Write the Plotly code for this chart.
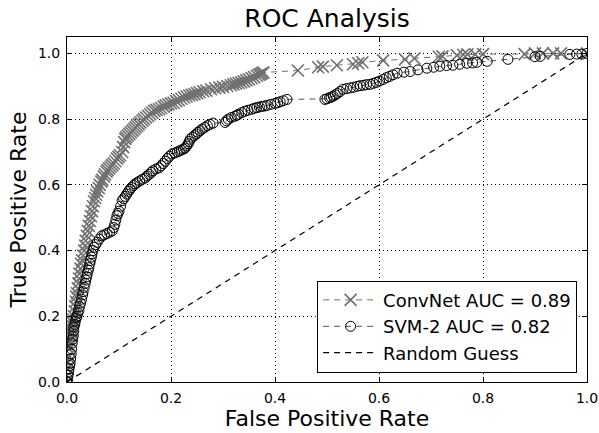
import plotly.graph_objects as go

# ConvNet ROC points (fpr, tpr)
cn_points = [
    (0.000, 0.000), (0.000, 0.020), (0.001, 0.040), (0.002, 0.060), (0.003, 0.080), (0.004, 0.100),
    (0.005, 0.110), (0.006, 0.125), (0.007, 0.140), (0.008, 0.150), (0.009, 0.160), (0.010, 0.170),
    (0.011, 0.180), (0.012, 0.190), (0.013, 0.200), (0.015, 0.215), (0.016, 0.230), (0.017, 0.245),
    (0.018, 0.260), (0.019, 0.270), (0.021, 0.285), (0.022, 0.300), (0.023, 0.315), (0.024, 0.330),
    (0.026, 0.345), (0.027, 0.360), (0.029, 0.370), (0.031, 0.385), (0.033, 0.400), (0.035, 0.415),
    (0.036, 0.430), (0.038, 0.445), (0.040, 0.460), (0.042, 0.475), (0.044, 0.490), (0.046, 0.505),
    (0.048, 0.520), (0.050, 0.535), (0.052, 0.550), (0.054, 0.560), (0.056, 0.570), (0.058, 0.580),
    (0.061, 0.590), (0.063, 0.600), (0.066, 0.610), (0.068, 0.615), (0.071, 0.625), (0.073, 0.632),
    (0.076, 0.640), (0.078, 0.645), (0.081, 0.650), (0.084, 0.655), (0.087, 0.660), (0.090, 0.665),
    (0.093, 0.672), (0.096, 0.680), (0.099, 0.685), (0.102, 0.690), (0.106, 0.700), (0.108, 0.715),
    (0.110, 0.730), (0.112, 0.740), (0.114, 0.745), (0.117, 0.750), (0.120, 0.755), (0.123, 0.760),
    (0.126, 0.765), (0.129, 0.770), (0.132, 0.775), (0.135, 0.780), (0.138, 0.785), (0.141, 0.790),
    (0.145, 0.795), (0.148, 0.800), (0.152, 0.805), (0.156, 0.810), (0.160, 0.815), (0.164, 0.820),
    (0.168, 0.825), (0.172, 0.828), (0.177, 0.830), (0.181, 0.834), (0.186, 0.838), (0.190, 0.842),
    (0.195, 0.845), (0.200, 0.848), (0.205, 0.850), (0.210, 0.855), (0.215, 0.858), (0.220, 0.862),
    (0.225, 0.866), (0.230, 0.869), (0.235, 0.872), (0.240, 0.874), (0.245, 0.876), (0.250, 0.879),
    (0.255, 0.882), (0.262, 0.885), (0.268, 0.887), (0.277, 0.891), (0.285, 0.894), (0.293, 0.896),
    (0.300, 0.898), (0.308, 0.901), (0.315, 0.903), (0.320, 0.906), (0.325, 0.908), (0.330, 0.910),
    (0.335, 0.912), (0.340, 0.915), (0.345, 0.918), (0.350, 0.921), (0.355, 0.925), (0.360, 0.928),
    (0.365, 0.932), (0.369, 0.935), (0.372, 0.937), (0.375, 0.940), (0.378, 0.942), (0.444, 0.948),
    (0.483, 0.958), (0.492, 0.960), (0.519, 0.964), (0.550, 0.967), (0.560, 0.970), (0.568, 0.973),
    (0.608, 0.979), (0.650, 0.982), (0.668, 0.985), (0.715, 0.990), (0.722, 0.991), (0.750, 0.994),
    (0.762, 0.996), (0.770, 0.997), (0.785, 0.997), (0.800, 0.998), (0.880, 0.998), (0.900, 1.000),
    (0.915, 1.000), (0.935, 1.000), (0.950, 1.000), (1.000, 1.000),
]

# SVM-2 ROC points (fpr, tpr)
svm_points = [
    (0.000, 0.000), (0.001, 0.010), (0.002, 0.020), (0.003, 0.030), (0.004, 0.040), (0.005, 0.050),
    (0.006, 0.057), (0.007, 0.070), (0.008, 0.085), (0.009, 0.100), (0.010, 0.118), (0.011, 0.130),
    (0.012, 0.140), (0.013, 0.155), (0.013, 0.167), (0.015, 0.175), (0.016, 0.185), (0.018, 0.195),
    (0.019, 0.200), (0.021, 0.210), (0.023, 0.218), (0.024, 0.230), (0.026, 0.240), (0.028, 0.252),
    (0.030, 0.265), (0.031, 0.275), (0.033, 0.288), (0.035, 0.300), (0.036, 0.310), (0.038, 0.320),
    (0.039, 0.330), (0.041, 0.340), (0.042, 0.348), (0.044, 0.360), (0.045, 0.370), (0.047, 0.380),
    (0.048, 0.390), (0.050, 0.400), (0.052, 0.410), (0.055, 0.418), (0.058, 0.425), (0.062, 0.435),
    (0.067, 0.445), (0.072, 0.448), (0.077, 0.452), (0.082, 0.456), (0.087, 0.460), (0.090, 0.470),
    (0.092, 0.480), (0.094, 0.493), (0.096, 0.506), (0.098, 0.513), (0.100, 0.520), (0.103, 0.535),
    (0.106, 0.552), (0.109, 0.558), (0.112, 0.565), (0.115, 0.572), (0.118, 0.580), (0.121, 0.586),
    (0.124, 0.592), (0.128, 0.598), (0.131, 0.603), (0.135, 0.607), (0.140, 0.612), (0.145, 0.617),
    (0.150, 0.621), (0.154, 0.627), (0.158, 0.632), (0.162, 0.638), (0.165, 0.643), (0.171, 0.648),
    (0.177, 0.652), (0.181, 0.658), (0.185, 0.665), (0.189, 0.672), (0.193, 0.680), (0.197, 0.687),
    (0.202, 0.694), (0.207, 0.697), (0.212, 0.700), (0.216, 0.703), (0.220, 0.706), (0.224, 0.709),
    (0.227, 0.712), (0.230, 0.718), (0.233, 0.725), (0.235, 0.732), (0.237, 0.739), (0.241, 0.745),
    (0.245, 0.750), (0.249, 0.755), (0.252, 0.760), (0.256, 0.765), (0.260, 0.770), (0.265, 0.775),
    (0.270, 0.780), (0.275, 0.784), (0.281, 0.788), (0.304, 0.790), (0.307, 0.795), (0.310, 0.800),
    (0.316, 0.805), (0.323, 0.809), (0.327, 0.812), (0.330, 0.815), (0.336, 0.820), (0.342, 0.824),
    (0.348, 0.827), (0.355, 0.830), (0.360, 0.833), (0.365, 0.835), (0.370, 0.837), (0.375, 0.839),
    (0.380, 0.840), (0.385, 0.842), (0.392, 0.845), (0.400, 0.848), (0.405, 0.850), (0.410, 0.853),
    (0.416, 0.856), (0.423, 0.860), (0.496, 0.860), (0.500, 0.862), (0.505, 0.865), (0.508, 0.867),
    (0.512, 0.870), (0.516, 0.874), (0.520, 0.878), (0.525, 0.884), (0.531, 0.891), (0.538, 0.893),
    (0.545, 0.895), (0.551, 0.897), (0.558, 0.900), (0.564, 0.902), (0.570, 0.903), (0.576, 0.905),
    (0.583, 0.906), (0.589, 0.909), (0.595, 0.912), (0.601, 0.916), (0.608, 0.921), (0.614, 0.926),
    (0.620, 0.930), (0.627, 0.935), (0.635, 0.940), (0.648, 0.943), (0.660, 0.945), (0.675, 0.950),
    (0.692, 0.955), (0.705, 0.958), (0.717, 0.961), (0.730, 0.963), (0.742, 0.964), (0.755, 0.967),
    (0.769, 0.970), (0.780, 0.971), (0.788, 0.973), (0.808, 0.976), (0.848, 0.982), (0.900, 0.990),
    (0.910, 0.991), (0.967, 0.997), (0.980, 0.998), (0.990, 0.998), (1.000, 1.000),
]

cn_fpr = [p[0] for p in cn_points]
cn_tpr = [p[1] for p in cn_points]
svm_fpr = [p[0] for p in svm_points]
svm_tpr = [p[1] for p in svm_points]

rand_x = [0.0, 1.0]
rand_y = [0.0, 1.0]

x_ticks = [0.0, 0.2, 0.4, 0.6, 0.8, 1.0]
y_ticks = [0.0, 0.2, 0.4, 0.6, 0.8, 1.0]
tick_text = ["0.0", "0.2", "0.4", "0.6", "0.8", "1.0"]

FONT = "DejaVu Sans"

fig = go.Figure()
fig.add_trace(go.Scatter(
    x=cn_fpr, y=cn_tpr, mode="lines+markers", name="ConvNet AUC = 0.89",
    line=dict(color="#707070", width=1, dash="6px,5px"),
    marker=dict(symbol="x-thin-open", size=12, color="#707070",
                line=dict(color="#707070", width=1.6)),
))
fig.add_trace(go.Scatter(
    x=svm_fpr, y=svm_tpr, mode="lines+markers", name="SVM-2 AUC = 0.82",
    line=dict(color="#555555", width=1, dash="6px,5px"),
    marker=dict(symbol="circle-open", size=10, color="black",
                line=dict(color="black", width=1)),
))
fig.add_trace(go.Scatter(
    x=rand_x, y=rand_y, mode="lines", name="Random Guess",
    line=dict(color="black", width=1.2, dash="6px,5px"),
))

axis_common = dict(
    showline=True, linecolor="black", linewidth=1, mirror="ticks",
    ticks="inside", ticklen=5, tickwidth=1, tickcolor="black",
    showgrid=True, gridcolor="black", gridwidth=1, griddash="1px,3px",
    zeroline=False, automargin=False, ticklabelstandoff=3,
    tickfont=dict(family=FONT, size=14, color="black"),
)

fig.update_layout(
    width=599, height=433,
    margin=dict(l=67, r=12, t=37, b=51, autoexpand=False),
    paper_bgcolor="white", plot_bgcolor="white",
    font=dict(family=FONT, color="black"),
    title=dict(text="ROC Analysis", x=0.5, xref="paper", y=0.958, yref="container",
               yanchor="middle", xanchor="center", automargin=False,
               font=dict(family=FONT, size=25, color="black")),
    xaxis=dict(range=[0, 1.0], tickvals=x_ticks, ticktext=tick_text,
               title=dict(text="False Positive Rate", font=dict(family=FONT, size=22), standoff=0),
               **axis_common),
    yaxis=dict(range=[0, 1.05], tickvals=y_ticks, ticktext=tick_text,
               title=dict(text="True Positive Rate", font=dict(family=FONT, size=22), standoff=5),
               **axis_common),
    legend=dict(x=0.981, y=0.027, xanchor="right", yanchor="bottom",
                bordercolor="black", borderwidth=1, bgcolor="white",
                font=dict(family=FONT, size=18, color="black"),
                itemwidth=55, tracegroupgap=0),
    showlegend=True,
)

fig.write_html(
    "out.html",
    config={"displayModeBar": False},
    post_script="document.body.style.margin='0';document.body.style.padding='0';"
                "document.body.style.overflow='hidden';",
)
